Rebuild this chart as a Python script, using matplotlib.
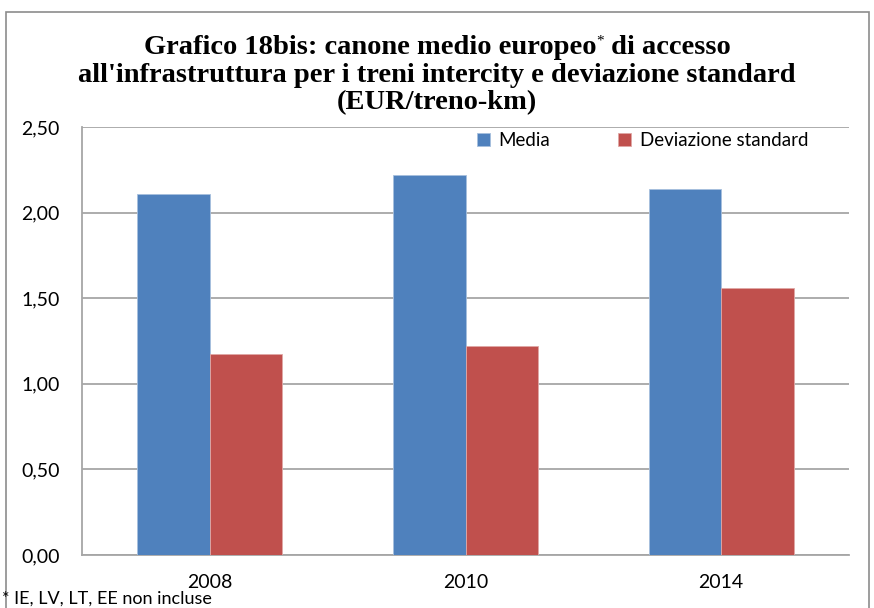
import matplotlib
matplotlib.use("Agg")
import matplotlib.pyplot as plt
import numpy as np
from matplotlib.patches import Rectangle

years = ["2008", "2010", "2014"]
media = [2.11, 2.22, 2.14]
dev_std = [1.175, 1.22, 1.56]
yticks = [0.0, 0.5, 1.0, 1.5, 2.0, 2.5]
ytick_labels = ["0,00", "0,50", "1,00", "1,50", "2,00", "2,50"]

W, H = 874, 608
fig = plt.figure(figsize=(W / 100, H / 100), dpi=100)
fig.patch.set_facecolor("white")

# outer chart border
fig.patches.append(Rectangle((6 / W, -0.05), (869 - 6) / W, (H - 12) / H + 0.05,
                             transform=fig.transFigure, fill=False,
                             edgecolor="#8c8c8c", linewidth=1.2))

ax = fig.add_axes([82 / W, (H - 555) / H, (849 - 82) / W, (555 - 127) / H])
x = np.arange(len(years))
bw = 0.283
ax.bar(x - bw / 2, media, bw, color="#4f81bd", edgecolor="#a7c0de", linewidth=0.6,
       label="Media", zorder=3)
ax.bar(x + bw / 2, dev_std, bw, color="#c0504d", edgecolor="#e0a8a6", linewidth=0.6,
       label="Deviazione standard", zorder=3)
ax.set_xlim(-0.5, 2.5)
ax.set_ylim(0, 2.5)
ax.set_yticks(yticks)
ax.set_yticklabels(ytick_labels, fontsize=14, family="Lato")
ax.set_xticks(x)
ax.set_xticklabels(years, fontsize=14, family="Lato")
ax.tick_params(axis="y", length=0, pad=16)
ax.tick_params(axis="x", length=0, pad=14)
ax.yaxis.grid(True, color="#a6a6a6", linewidth=1.3, zorder=0)
for s in ["top", "right"]:
    ax.spines[s].set_visible(False)
for s in ["left", "bottom"]:
    ax.spines[s].set_color("#a6a6a6")
    ax.spines[s].set_linewidth(1.3)

leg = ax.legend(loc="center right", bbox_to_anchor=((808 - 82) / 767, 1 - 14 / 428), ncol=2,
                frameon=False, borderaxespad=0, borderpad=0,
                prop={"family": "Lato", "size": 13.5}, handlelength=0.7, handleheight=0.7,
                columnspacing=3.6, handletextpad=0.45)

tfont = dict(fontsize=20.5, fontweight="bold", family="Liberation Serif")
fig.canvas.draw()
renderer = fig.canvas.get_renderer()

# line 1 with small superscript asterisk
y1 = (H - 47) / H
part_a = fig.text(0, y1, "Grafico 18bis: canone medio europeo", ha="left", va="center", **tfont)
star = fig.text(0, y1 + 6 / H, "*", ha="left", va="center", fontsize=11,
                family="Liberation Serif")
part_b = fig.text(0, y1, " di accesso", ha="left", va="center", **tfont)
wa = part_a.get_window_extent(renderer).width
ws = star.get_window_extent(renderer).width
wb = part_b.get_window_extent(renderer).width
total = wa + ws + wb
x0 = (W - total) / 2
part_a.set_x(x0 / W)
star.set_x((x0 + wa) / W)
part_b.set_x((x0 + wa + ws) / W)

fig.text(0.5, (H - 75) / H,
         "all'infrastruttura per i treni intercity e deviazione standard",
         ha="center", va="center", **tfont)
fig.text(0.5, (H - 103) / H, "(EUR/treno-km)", ha="center", va="center", **tfont)

fig.text(2 / W, (H - 599) / H, "* IE, LV, LT, EE non incluse", ha="left", va="center",
         fontsize=13, family="Lato")

fig.savefig("out.png", dpi=100, facecolor="white")
